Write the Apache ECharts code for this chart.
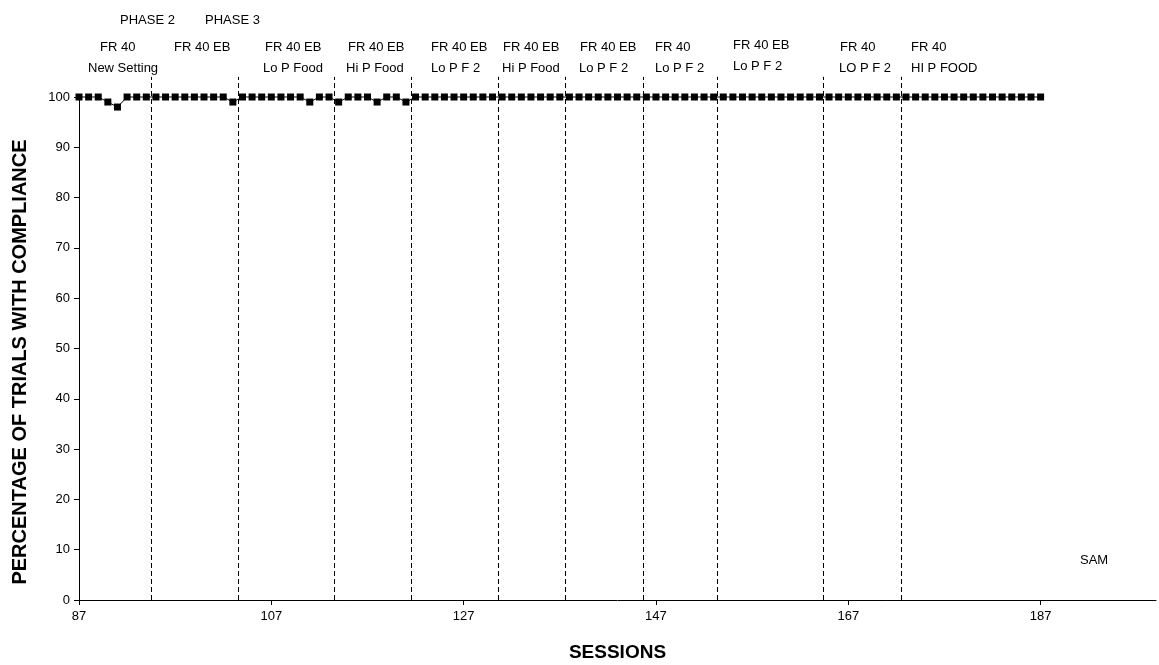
<!DOCTYPE html>
<html>
<head>
<meta charset="utf-8">
<title>SAM – Percentage of trials with compliance</title>
<script src="https://cdn.jsdelivr.net/npm/echarts@6/dist/echarts.min.js"></script>
<style>
  html, body { margin: 0; padding: 0; background: #ffffff; }
  #chart { width: 1159px; height: 665px; }
</style>
</head>
<body>
<div id="chart"></div>
<script>
// Session numbers and percentage of trials with compliance for SAM
const sessions = [];
for (let s = 87; s <= 187; s++) sessions.push(s);

const compliance = [
  100, 100, 100, 99, 98, 100, 100, 100, 100, 100,   // 87-96
  100, 100, 100, 100, 100, 100, 99, 100, 100, 100,  // 97-106
  100, 100, 100, 100, 99, 100, 100, 99, 100, 100,   // 107-116
  100, 99, 100, 100, 99, 100, 100, 100, 100, 100,   // 117-126
  100, 100, 100, 100, 100, 100, 100, 100, 100, 100, // 127-136
  100, 100, 100, 100, 100, 100, 100, 100, 100, 100, // 137-146
  100, 100, 100, 100, 100, 100, 100, 100, 100, 100, // 147-156
  100, 100, 100, 100, 100, 100, 100, 100, 100, 100, // 157-166
  100, 100, 100, 100, 100, 100, 100, 100, 100, 100, // 167-176
  100, 100, 100, 100, 100, 100, 100, 100, 100, 100, // 177-186
  100                                               // 187
];

// Condition changes (between sessions)
const phaseBoundaries = [94.5, 103.5, 113.5, 121.5, 130.6, 137.5, 145.7, 153.3, 164.4, 172.5];

// Axis ticks
const xTicks = [87, 107, 127, 147, 167, 187];
const yTicks = [0, 10, 20, 30, 40, 50, 60, 70, 80, 90, 100];

// Condition labels above the plot
const phaseTitles = ['PHASE 2', 'PHASE 3'];
const conditionLine1 = ['FR 40', 'FR 40 EB', 'FR 40 EB', 'FR 40 EB', 'FR 40 EB', 'FR 40 EB',
                        'FR 40 EB', 'FR 40', 'FR 40 EB', 'FR 40', 'FR 40'];
const conditionLine2 = ['New Setting', '', 'Lo P Food', 'Hi P Food', 'Lo P F 2', 'Hi P Food',
                        'Lo P F 2', 'Lo P F 2', 'Lo P F 2', 'LO P F 2', 'HI P FOOD'];
const subjectName = 'SAM';
const xTitle = 'SESSIONS';
const yTitle = 'PERCENTAGE OF TRIALS WITH COMPLIANCE';

// ---- layout (pixels) ----
const FONT = '"Liberation Sans", Arial, sans-serif';
const LABEL_FONT = '13px ' + FONT;
const phaseTitleX = [120, 205];
const conditionX = [
  [100, 88], [174, 174], [265, 263], [348, 346], [431, 431], [503, 502],
  [580, 579], [655, 655], [733, 733], [840, 839], [911, 911]
];
const conditionY = [
  [47, 68], [47, 68], [47, 68], [47, 68], [47, 68], [47, 68],
  [47, 68], [47, 68], [45, 66], [47, 68], [47, 68]
];

function label(text, x, y, font, align) {
  return {
    type: 'text', x: x, y: y, silent: true,
    style: { text: text, font: font, fill: '#000', align: align || 'left', verticalAlign: 'middle' }
  };
}

const graphicTexts = [];
phaseTitles.forEach((t, i) => graphicTexts.push(label(t, phaseTitleX[i], 20, LABEL_FONT)));
conditionLine1.forEach((t, i) => {
  graphicTexts.push(label(t, conditionX[i][0], conditionY[i][0], LABEL_FONT));
  if (conditionLine2[i]) {
    graphicTexts.push(label(conditionLine2[i], conditionX[i][1], conditionY[i][1], LABEL_FONT));
  }
});
graphicTexts.push(label(subjectName, 1080, 560, LABEL_FONT));
// y-axis title, rotated
graphicTexts.push({
  type: 'text', x: 20, y: 362, rotation: Math.PI / 2, silent: true,
  style: { text: yTitle, font: 'bold 20px ' + FONT, fill: '#000', align: 'center', verticalAlign: 'middle' }
});

const chart = echarts.init(document.getElementById('chart'), null, { renderer: 'canvas' });

chart.setOption({
  animation: false,
  backgroundColor: '#ffffff',
  grid: { left: 79, right: 3, top: 97, bottom: 65, containLabel: false, outerBoundsMode: 'none' },
  xAxis: {
    type: 'value',
    min: 87,
    max: 199,
    name: xTitle,
    nameLocation: 'middle',
    nameGap: 43,
    nameTextStyle: { fontFamily: FONT, fontSize: 19, fontWeight: 'bold', color: '#000' },
    axisLine: { show: true, onZero: false, lineStyle: { color: '#000', width: 1 } },
    axisTick: { show: true, inside: false, length: 5, customValues: xTicks, lineStyle: { color: '#000' } },
    axisLabel: { customValues: xTicks, fontFamily: FONT, fontSize: 13, color: '#000', margin: 10 },
    splitLine: { show: false }
  },
  yAxis: {
    type: 'value',
    min: 0,
    max: 100,
    axisLine: { show: true, lineStyle: { color: '#000', width: 1 } },
    axisTick: { show: true, inside: false, length: 5, customValues: yTicks, lineStyle: { color: '#000' } },
    axisLabel: { customValues: yTicks, fontFamily: FONT, fontSize: 13, color: '#000', margin: 9 },
    splitLine: { show: false }
  },
  graphic: graphicTexts,
  series: [
    {
      // dashed condition-change lines, extended a little above the 100% line
      type: 'custom',
      clip: false,
      silent: true,
      data: phaseBoundaries.map(b => [b, 0]),
      renderItem: function (params, api) {
        const x = api.value(0);
        const p0 = api.coord([x, 0]);
        const p1 = api.coord([x, 104]);
        const px = Math.round(p0[0]) + 0.5;
        return {
          type: 'line',
          shape: { x1: px, y1: p0[1], x2: px, y2: p1[1] },
          style: { stroke: '#000', lineWidth: 1, lineDash: [5, 3] }
        };
      },
      z: 1
    },
    {
      name: subjectName,
      type: 'line',
      data: sessions.map((s, i) => [s, compliance[i]]),
      symbol: 'rect',
      symbolSize: 7,
      showSymbol: true,
      clip: false,
      lineStyle: { color: '#000', width: 1 },
      itemStyle: { color: '#000' },
      z: 3
    }
  ]
});
</script>
</body>
</html>
